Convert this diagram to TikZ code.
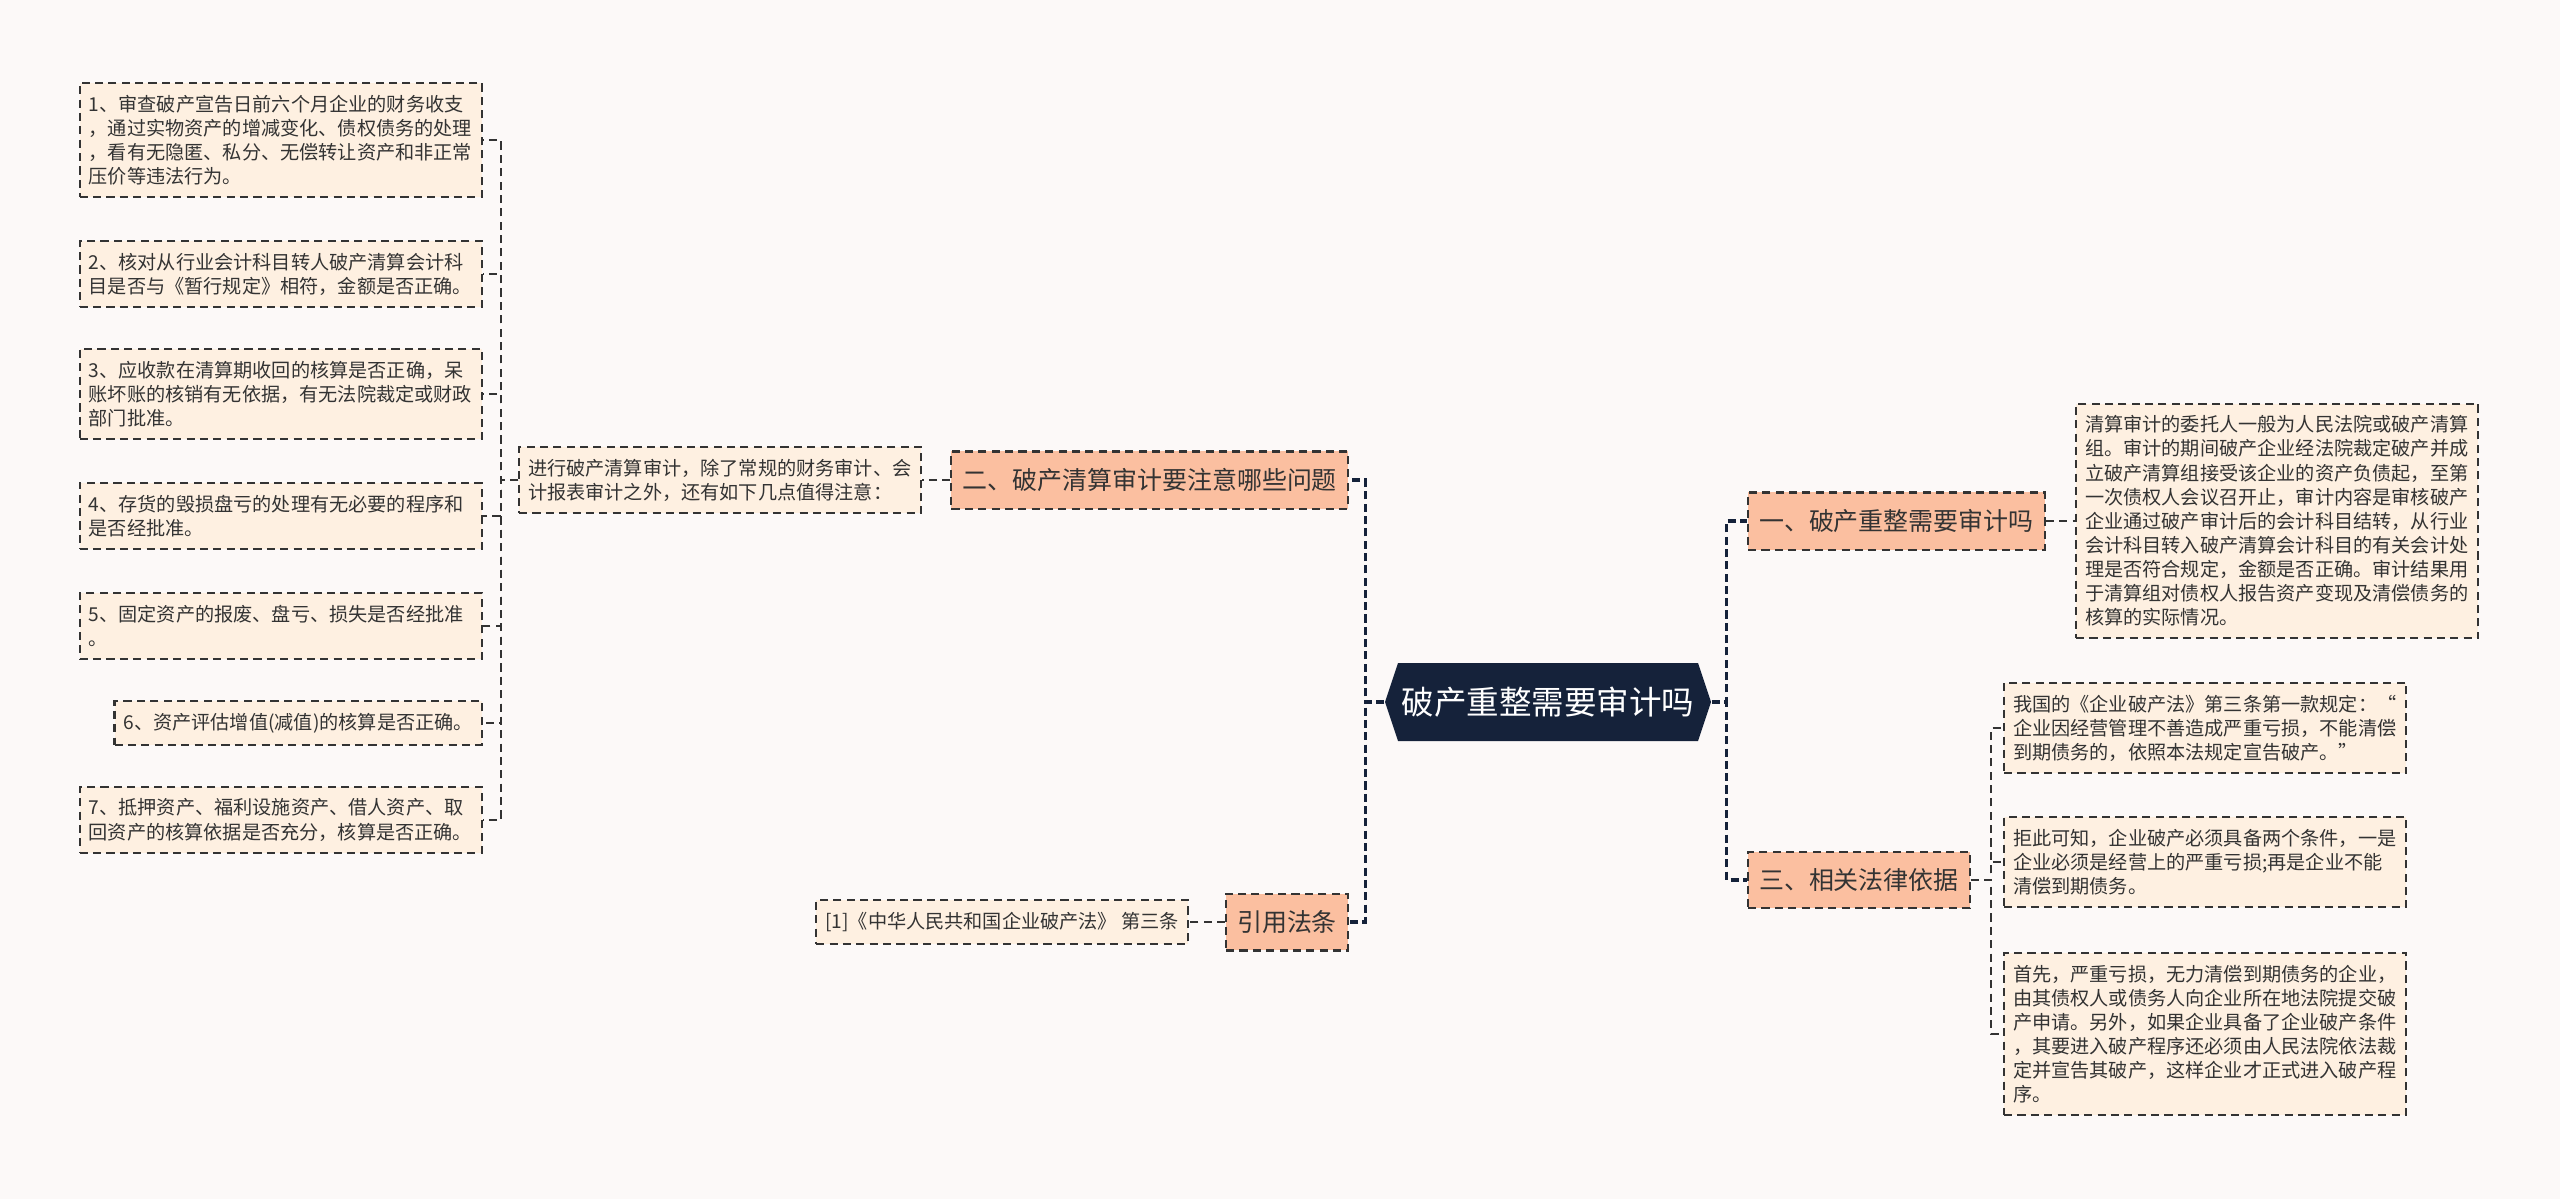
\documentclass[tikz,border=0pt]{standalone}
\usepackage{fontspec}
\setmainfont{Noto Sans CJK SC}
\usepackage{tikz}
\usetikzlibrary{positioning}
\definecolor{kpage}{HTML}{FCF9F8}
\definecolor{kleaf}{HTML}{FEF0E1}
\definecolor{ktopic}{HTML}{FBBFA0}
\definecolor{knavy}{HTML}{15223A}
\definecolor{kline}{HTML}{333333}

\begin{document}
\begin{tikzpicture}[x=0.01cm, y=-0.01cm,
  dashline/.style={draw=kline, line width=0.6pt, dash pattern=on 2.3pt off 1.5pt},
  leafbox/.style={dashline, fill=kleaf, text=kline, align=left,
    font=\fontsize{5.45}{6.86}\selectfont, inner xsep=0.09cm, inner ysep=3.4pt},
  wideleaf/.style={leafbox, text width=3.84cm},
  topicbox/.style={dashline, fill=ktopic, text=kline,
    font=\fontsize{7.1}{8.5}\selectfont, inner xsep=0.11cm, inner ysep=4.8pt},
  link/.style={draw=knavy, line width=0.9pt, dash pattern=on 2.3pt off 1.2pt}]
\fill[kpage] (0,0) rectangle (2560,1199);
\useasboundingbox (0,0) rectangle (2560,1199);

\fill[knavy] (1385,702) -- (1398,663) -- (1698,663) -- (1711,702) -- (1698,741) -- (1398,741) -- cycle;
\node[text=white, font=\fontsize{9.25}{11}\selectfont, minimum width=3.26cm, minimum height=0.78cm, inner sep=0pt]
  (root) at (1548,702) {破产重整需要审计吗};

\node[topicbox, anchor=east] (sec2) at (1349,480) {二、破产清算审计要注意哪些问题};
\node[topicbox, anchor=east] (cite) at (1349,922) {引用法条};
\node[topicbox, anchor=west] (sec1) at (1747,521) {一、破产重整需要审计吗};
\node[topicbox, anchor=west] (sec3) at (1747,880) {三、相关法律依据};

\node[wideleaf, anchor=west] (intro) at (518,480)
  {进行破产清算审计，除了常规的财务审计、会\\计报表审计之外，还有如下几点值得注意：};
\node[leafbox, anchor=east] (law) at (1189,922) {[1]《中华人民共和国企业破产法》 第三条};

\node[wideleaf, anchor=east] (p1) at (483,140)
  {1、审查破产宣告日前六个月企业的财务收支\\，通过实物资产的增减变化、债权债务的处理\\，看有无隐匿、私分、无偿转让资产和非正常\\压价等违法行为。};
\node[wideleaf, anchor=east] (p2) at (483,274)
  {2、核对从行业会计科目转人破产清算会计科\\目是否与《暂行规定》相符，金额是否正确。};
\node[wideleaf, anchor=east] (p3) at (483,394)
  {3、应收款在清算期收回的核算是否正确，呆\\账坏账的核销有无依据，有无法院裁定或财政\\部门批准。};
\node[wideleaf, anchor=east] (p4) at (483,516)
  {4、存货的毁损盘亏的处理有无必要的程序和\\是否经批准。};
\node[wideleaf, anchor=east] (p5) at (483,626)
  {5、固定资产的报废、盘亏、损失是否经批准\\。};
\node[leafbox, anchor=east] (p6) at (483,723) {6、资产评估增值(减值)的核算是否正确。};
\node[wideleaf, anchor=east] (p7) at (483,820)
  {7、抵押资产、福利设施资产、借人资产、取\\回资产的核算依据是否充分，核算是否正确。};

\node[wideleaf, anchor=west] (note1) at (2075,521)
  {清算审计的委托人一般为人民法院或破产清算\\组。审计的期间破产企业经法院裁定破产并成\\立破产清算组接受该企业的资产负债起，至第\\一次债权人会议召开止，审计内容是审核破产\\企业通过破产审计后的会计科目结转，从行业\\会计科目转入破产清算会计科目的有关会计处\\理是否符合规定，金额是否正确。审计结果用\\于清算组对债权人报告资产变现及清偿债务的\\核算的实际情况。};

\node[wideleaf, anchor=west] (basisa) at (2003,728)
  {我国的《企业破产法》第三条第一款规定：“\\企业因经营管理不善造成严重亏损，不能清偿\\到期债务的，依照本法规定宣告破产。”};
\node[wideleaf, anchor=west] (basisb) at (2003,862)
  {拒此可知，企业破产必须具备两个条件，一是\\企业必须是经营上的严重亏损;再是企业不能\\清偿到期债务。};
\node[wideleaf, anchor=west] (basisc) at (2003,1034)
  {首先，严重亏损，无力清偿到期债务的企业，\\由其债权人或债务人向企业所在地法院提交破\\产申请。另外，如果企业具备了企业破产条件\\，其要进入破产程序还必须由人民法院依法裁\\定并宣告其破产，这样企业才正式进入破产程\\序。};

\draw[link] (root.west) -- ++(-19,0) |- (sec2.east);
\draw[link] (root.west) -- ++(-19,0) |- (cite.east);
\draw[link] (root.east) -- ++(15,0) |- (sec1.west);
\draw[link] (root.east) -- ++(15,0) |- (sec3.west);
\draw[dashline] (sec2.west) -- (intro.east);
\draw[dashline] (cite.west) -- (law.east);
\draw[dashline] (sec1.east) -- (note1.west);
\foreach \n in {p1,p2,p3,p4,p5,p6,p7}
  \draw[dashline] (intro.west) -- ++(-17,0) |- (\n.east);
\foreach \n in {basisa,basisb,basisc}
  \draw[dashline] (sec3.east) -- ++(20,0) |- (\n.west);
\end{tikzpicture}
\end{document}
